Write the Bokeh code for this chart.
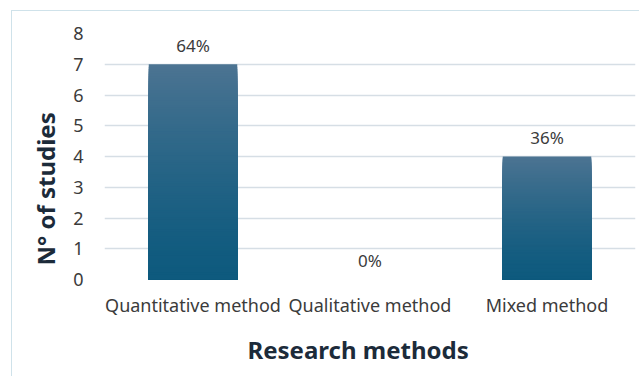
from bokeh.plotting import figure
from bokeh.models import Range1d, FactorRange, ColumnDataSource, LabelSet, Title
from bokeh.core.properties import value
from bokeh.embed import file_html
from bokeh.resources import INLINE

# Number of studies per research method
methods = ["Quantitative method", "Qualitative method", "Mixed method"]
studies = [7, 0, 4]
y_ticks = [0, 1, 2, 3, 4, 5, 6, 7, 8]
x_title = "Research methods"
y_title = "N° of studies"

total = sum(studies)
shares = [f"{round(100 * s / total)}%" for s in studies]

TOP_RGB = (76, 116, 146)
BOTTOM_RGB = (14, 90, 126)
TEXT = "#3b3b3b"
TITLE = "#1c2b3a"
FONT = "Noto Sans"

p = figure(
    width=628, height=366,
    x_range=FactorRange(*methods, range_padding=0.0),
    y_range=Range1d(0, 8),
    output_backend="svg", toolbar_location=None,
    min_border_left=92, min_border_right=5,
    min_border_top=22, min_border_bottom=97,
    margin=(10, 0, 0, 11),
    background_fill_color="white", border_fill_color="white",
)
p.styles = {"border-top": "1px solid #cfe2ea", "border-left": "1px solid #cfe2ea"}
p.outline_line_color = None

# Vertical gradient on each bar: overlapping layers from the base up,
# tallest drawn first so each shorter layer paints over its lower part
n_layers = 90
xs, tops, colors = [], [], []
for m, v in zip(methods, studies):
    if v <= 0:
        continue
    for i in range(n_layers, 0, -1):
        f = i / n_layers
        t = (f - 0.5 / n_layers) ** 1.4
        c = tuple(int(round(b + (a - b) * t)) for a, b in zip(TOP_RGB, BOTTOM_RGB))
        xs.append(m)
        tops.append(v * f)
        colors.append("#%02x%02x%02x" % c)

bar_src = ColumnDataSource(dict(x=xs, top=tops, color=colors))
p.vbar(x="x", bottom=0, top="top", width=0.5, source=bar_src,
       fill_color="color", line_color=None)

lab_src = ColumnDataSource(dict(x=methods, y=studies, text=shares))
p.add_layout(LabelSet(x="x", y="y", text="text", source=lab_src,
                      text_align="center", text_baseline="middle", y_offset=19,
                      text_font=value(FONT), text_font_size="17px",
                      text_color=TEXT))

# Grid
p.xgrid.grid_line_color = None
p.ygrid.ticker = y_ticks
p.ygrid.grid_line_color = "#d6dee5"
p.ygrid.grid_line_width = 1.5

# Y axis
p.yaxis.ticker = y_ticks
p.yaxis.axis_line_color = None
p.yaxis.major_tick_line_color = None
p.yaxis.minor_tick_line_color = None
p.yaxis.major_label_text_font = FONT
p.yaxis.major_label_text_font_size = "18px"
p.yaxis.major_label_text_color = TEXT
p.yaxis.major_label_standoff = 15

# X axis
p.xaxis.axis_line_color = None
p.xaxis.major_tick_line_color = None
p.xaxis.minor_tick_line_color = None
p.xaxis.major_label_text_font = FONT
p.xaxis.major_label_text_font_size = "18px"
p.xaxis.major_label_text_color = TEXT
p.xaxis.major_label_standoff = 7

# Axis titles, placed as side titles so they can be shifted along the axis
p.add_layout(Title(text=x_title, align="left", offset=143, standoff=23,
                   text_font=FONT, text_font_style="bold",
                   text_font_size="24px", text_color=TITLE), "below")
p.add_layout(Title(text=y_title, align="left", offset=14, standoff=17,
                   text_font=FONT, text_font_style="bold",
                   text_font_size="24px", text_color=TITLE), "left")

open("out.html", "w").write(file_html(p, INLINE))
